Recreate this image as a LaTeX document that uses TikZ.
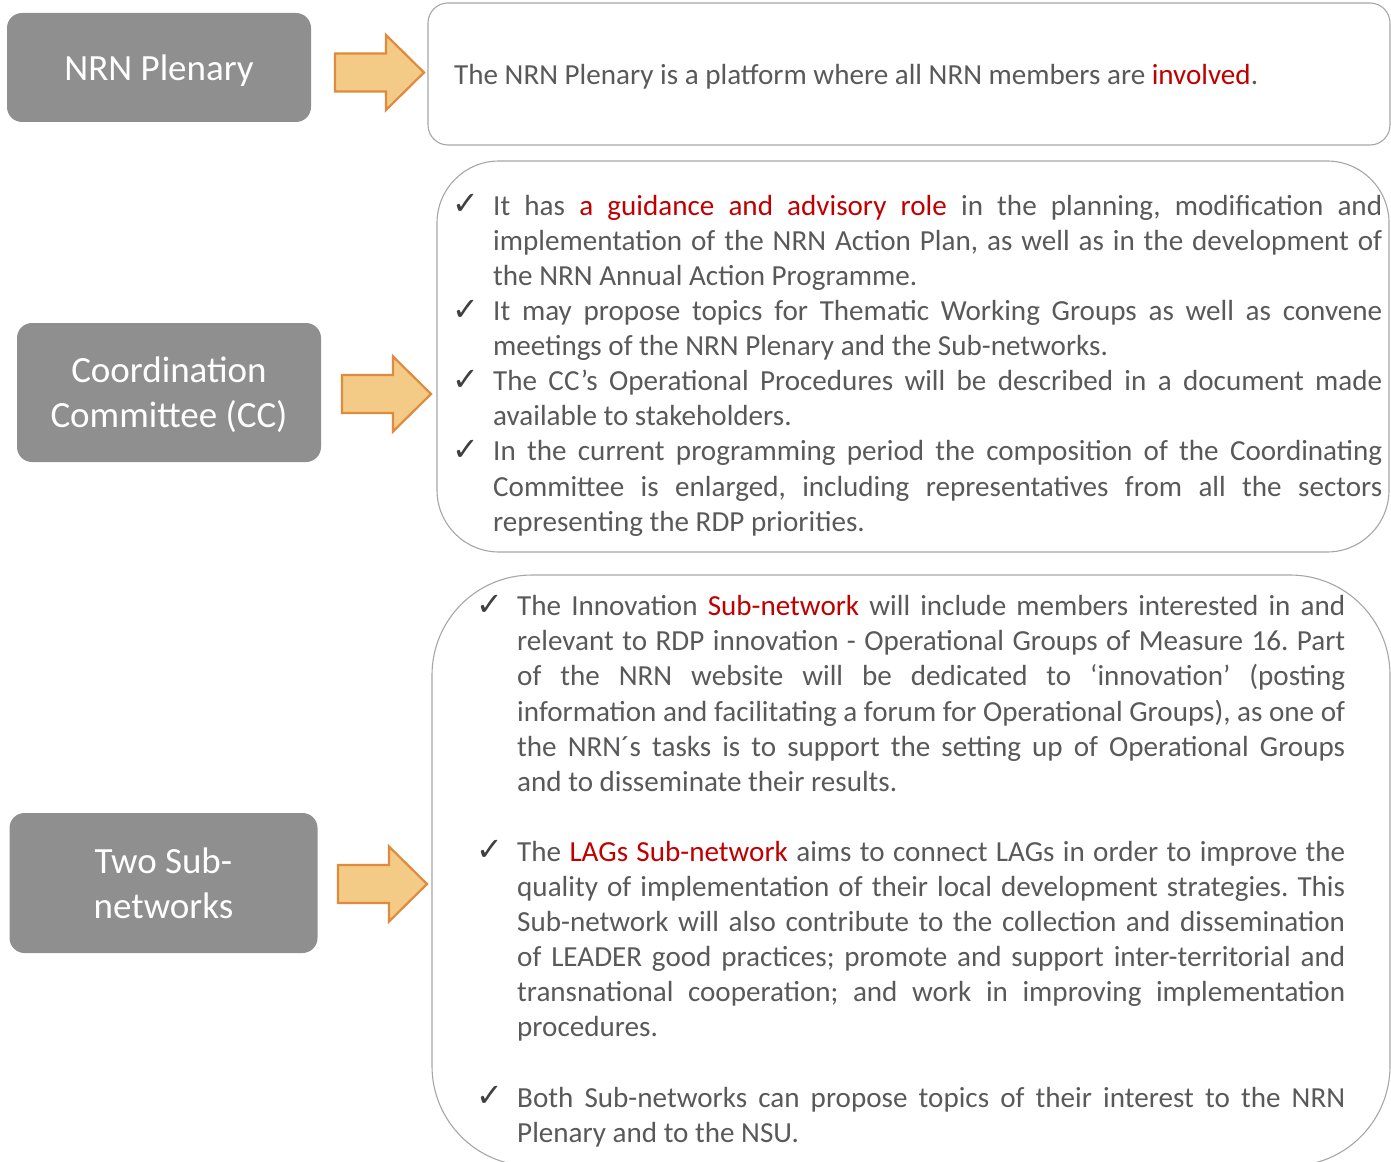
\documentclass[tikz,border=0pt]{standalone}
\usepackage{fontspec}
\setmainfont{Carlito}
\newfontfamily\symfont{DejaVu Sans}
\definecolor{boxgray}{HTML}{8F8F8F}
\definecolor{txtgray}{HTML}{595959}
\definecolor{ckgray}{HTML}{404040}
\definecolor{redc}{HTML}{C00000}
\definecolor{linegray}{HTML}{A6A6A6}
\definecolor{arrfill}{HTML}{F3CB86}
\definecolor{arrline}{HTML}{DF8A3C}
\frenchspacing
\newcommand\ck{\llap{{\color{ckgray}\symfont\fontsize{32}{32}\selectfont\raisebox{0.5pt}{✓}}\hspace{14pt}}}
\newcommand\JA[1]{\makebox[889pt][s]{\strut #1}}
\newcommand\LA[1]{\makebox[889pt][l]{\strut #1}}
\newcommand\JB[1]{\makebox[828pt][s]{\strut #1}}
\newcommand\LB[1]{\makebox[828pt][l]{\strut #1}}
\newcommand\R[1]{\textcolor{redc}{#1}}
\newcommand\fatarrow[2]{%
  \draw[fatarrowstyle] (#1,#2-19) -- (#1+51,#2-19) -- (#1+51,#2-37.5) -- (#1+89,#2)
    -- (#1+51,#2+37.5) -- (#1+51,#2+19) -- (#1,#2+19) -- cycle;}
\tikzset{
  graybox/.style={fill=boxgray, rounded corners=15pt, text=white, align=center,
    font=\fontsize{37}{45}\selectfont, inner sep=0pt, text depth=0pt},
  frame/.style={draw=linegray, line width=1.1pt},
  fatarrowstyle/.style={fill=arrfill, draw=arrline, line width=2.2pt, line join=miter},
  bodytext/.style={inner sep=0pt, align=left, text=txtgray,
    font=\fontsize{29.1}{35.1}\selectfont}
}
\begin{document}
\begin{tikzpicture}[x=1pt,y=-1pt]
\useasboundingbox (0,0) rectangle (1391,1161);
% left gray boxes
\node[graybox, minimum width=304pt, minimum height=109pt] (plen) at (159,67.5) {NRN Plenary};
\node[graybox, minimum width=304pt, minimum height=139pt] (cc) at (169,392.5) {Coordination\\Committee (CC)};
\node[graybox, minimum width=308pt, minimum height=140pt] (sub) at (163.5,883) {Two Sub-\\networks};
% arrows
\fatarrow{335}{72.5}
\fatarrow{342}{394}
\fatarrow{338}{884}
% right frames
\draw[frame, rounded corners=20pt] (428,3) rectangle (1390,145);
\draw[frame, rounded corners=62pt] (437,161) rectangle (1389,552);
\draw[frame, rounded corners=100pt] (432,575) rectangle (1390,1166);
% texts
\node[bodytext, anchor=base west] (t1) at (454,85)
  {The NRN Plenary is a platform where all NRN members are \R{involved}.};
\node[bodytext, anchor=north west] (t2) at (493,190.43) {%
\JA{\ck It has \R{a guidance and advisory role} in the planning, modification and}\\
\JA{implementation of the NRN Action Plan, as well as in the development of}\\
\LA{the NRN Annual Action Programme.}\\
\JA{\ck It may propose topics for Thematic Working Groups as well as convene}\\
\LA{meetings of the NRN Plenary and the Sub-networks.}\\
\JA{\ck The CC’s Operational Procedures will be described in a document made}\\
\LA{available to stakeholders.}\\
\JA{\ck In the current programming period the composition of the Coordinating}\\
\JA{Committee is enlarged, including representatives from all the sectors}\\
\LA{representing the RDP priorities.}};
\node[bodytext, anchor=north west] (t3) at (517,591) {%
\JB{\ck The Innovation \R{Sub-network} will include members interested in and}\\
\JB{relevant to RDP innovation - Operational Groups of Measure 16. Part}\\
\JB{of the NRN website will be dedicated to ‘innovation’ (posting}\\
\JB{information and facilitating a forum for Operational Groups), as one of}\\
\JB{the NRN´s tasks is to support the setting up of Operational Groups}\\
\LB{and to disseminate their results.}\\[35.1pt]
\JB{\ck The \R{LAGs Sub-network} aims to connect LAGs in order to improve the}\\
\JB{quality of implementation of their local development strategies. This}\\
\JB{Sub-network will also contribute to the collection and dissemination}\\
\JB{of LEADER good practices; promote and support inter-territorial and}\\
\JB{transnational cooperation; and work in improving implementation}\\
\LB{procedures.}\\[35.1pt]
\JB{\ck Both Sub-networks can propose topics of their interest to the NRN}\\
\LB{Plenary and to the NSU.}};
\end{tikzpicture}
\end{document}
